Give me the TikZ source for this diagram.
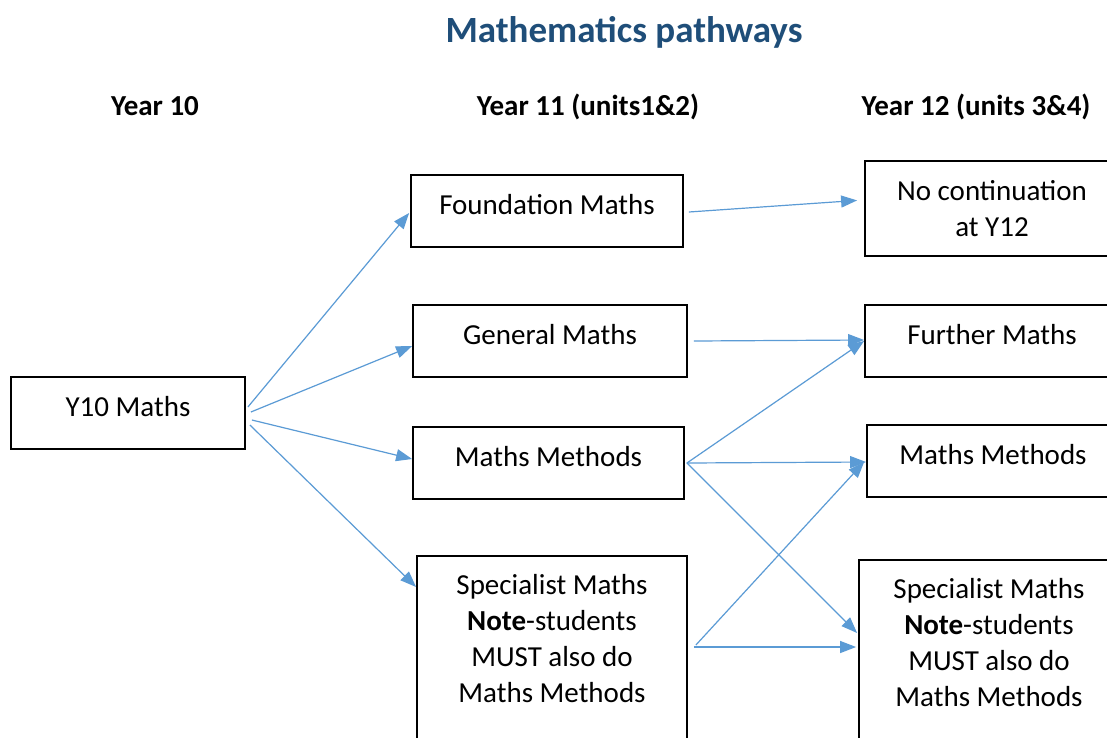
\documentclass[tikz,border=0pt]{standalone}
\usepackage{fontspec}
\setmainfont{Carlito}
\usetikzlibrary{arrows.meta}

\definecolor{titleblue}{RGB}{31,78,121}
\definecolor{linkblue}{RGB}{91,155,213}

\tikzset{
  course/.style={draw, line width=1.8pt, inner sep=0pt, align=center,
    text height=39pt, text depth=33pt,
    font=\fontsize{29}{36}\selectfont},
  heading/.style={anchor=base, font=\fontsize{29}{36}\selectfont\bfseries},
  link/.style={draw=linkblue, line width=1.2pt,
    -{Triangle[length=16pt,width=12pt]}}
}

\begin{document}
\begin{tikzpicture}[x=1pt, y=-1pt]

  \clip (0,0) rectangle (1107,737);
  \fill[white] (0,0) rectangle (1107,737);

  \node (title) [anchor=base, text=titleblue,
    font=\fontsize{37}{44}\selectfont\bfseries] at (624,42) {Mathematics pathways};

  \node (hdrten)    [heading] at (155,115) {Year 10};
  \node (hdreleven) [heading] at (588,115) {Year 11 (units1\&2)};
  \node (hdrtwelve) [heading] at (976,115) {Year 12 (units 3\&4)};

  % year 10
  \node (y10) [course, minimum width=234pt] at (128,413) {Y10 Maths};

  % year 11, units 1 and 2
  \node (found)  [course, minimum width=272pt] at (547,211) {Foundation Maths};
  \node (gen)    [course, minimum width=274pt] at (550,341) {General Maths};
  \node (meth11) [course, minimum width=271pt] at (548.5,463) {Maths Methods};
  \node (spec11) [course, minimum width=270pt, anchor=north,
    text height=147pt, text depth=70pt] at (552,555)
    {Specialist Maths\\\textbf{Note}-students\\MUST also do\\Maths Methods};

  % year 12, units 3 and 4
  \node (nocont)  [course, minimum width=254pt, anchor=north,
    text height=76pt, text depth=19pt] at (992,160) {No continuation\\at Y12};
  \node (further) [course, minimum width=254pt] at (992,341) {Further Maths};
  \node (meth12)  [course, minimum width=252pt] at (993,461) {Maths Methods};
  \node (spec12)  [course, minimum width=260pt, anchor=north,
    text height=147pt, text depth=70pt] at (989,559)
    {Specialist Maths\\\textbf{Note}-students\\MUST also do\\Maths Methods};

  \draw [link] ([shift={(2,-6)}]y10.east) to ([shift={(-1,2)}]found.west);
  \draw [link] ([shift={(5,-1)}]y10.east) to ([shift={(0,5)}]gen.west);
  \draw [link] ([shift={(6,7)}]y10.east) to ([shift={(0,-4)}]meth11.west);
  \draw [link] ([shift={(4,12)}]y10.east) to ([shift={(0,32)}]spec11.north west);

  \draw [link] ([shift={(5,1)}]found.east) to ([shift={(-7,-8)}]nocont.west);
  \draw [link] ([shift={(6,0)}]gen.east) to ([shift={(0,-1)}]further.west);

  \draw [link] ([shift={(2,0)}]meth11.east) to (further.west);
  \draw [link] ([shift={(2,0)}]meth11.east) to ([shift={(0,1)}]meth12.west);
  \draw [link] ([shift={(2,0)}]meth11.east) to ([shift={(-1,74)}]spec12.north west);

  \draw [link] ([shift={(8,90)}]spec11.north east) to ([shift={(-2,1)}]meth12.west);
  \draw [link] ([shift={(6,92)}]spec11.north east) to ([shift={(-2,88)}]spec12.north west);

\end{tikzpicture}
\end{document}
